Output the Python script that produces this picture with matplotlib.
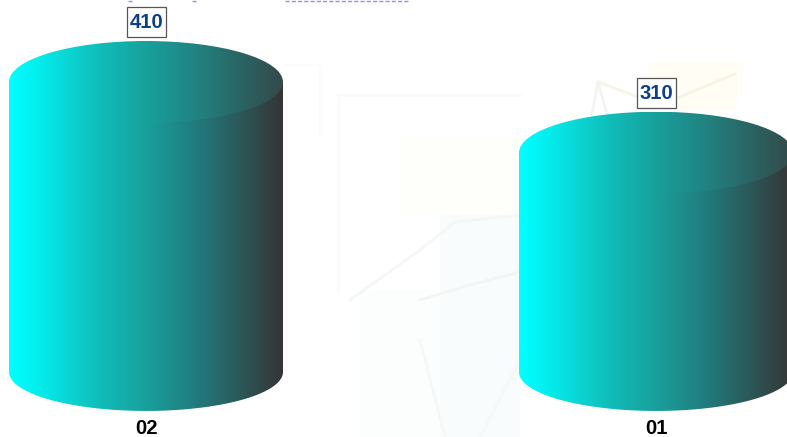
import numpy as np
import matplotlib
matplotlib.use('Agg')
import matplotlib.pyplot as plt
from matplotlib.colors import LinearSegmentedColormap
from matplotlib.patches import Ellipse, PathPatch, Polygon, Rectangle
from matplotlib.path import Path
from matplotlib.transforms import Affine2D

# data
categories = ['02', '01']
values = [410, 310]

W, H = 787, 437
PX_PER_UNIT = 0.7073   # vertical pixels per value unit
BASE_PX = 372          # pixel row of value 0
X0_PX = 146            # centre of first cylinder
STEP_PX = 510          # distance between cylinders
BAR_W = 274 / STEP_PX  # cylinder width in category units
ELL_H = 41 / PX_PER_UNIT  # half height of end ellipses in value units

plt.rcParams['font.family'] = ['Liberation Sans', 'DejaVu Sans']

side_cmap = LinearSegmentedColormap.from_list('side', [
    (0.0, '#00ffff'), (0.1, '#04eeee'), (0.33, '#10bdb9'), (0.5, '#18a09c'),
    (0.7, '#22787a'), (0.88, '#2e5050'), (1.0, '#353535')])
top_cmap = LinearSegmentedColormap.from_list('top', [
    (0.0, '#00ffff'), (0.1, '#04eeee'), (0.33, '#10bdb9'), (0.5, '#18a09c'),
    (0.7, '#22807e'), (0.88, '#2c5e5e'), (1.0, '#344a4a')])

fig = plt.figure(figsize=(W / 100, H / 100), dpi=100)
ax = fig.add_axes([0, 0, 1, 1])
ax.set_xlim(-X0_PX / STEP_PX, (W - X0_PX) / STEP_PX)
ax.set_ylim(-(H - BASE_PX) / PX_PER_UNIT, BASE_PX / PX_PER_UNIT)
ax.set_autoscale_on(False)
ax.axis('off')

# faint watermark behind the chart, in pixel rows from the top
px = Affine2D().scale(1, -1).translate(0, H)
ax.add_patch(Rectangle((400, 138), 120, 80, color='#fefefa', lw=0, transform=px, zorder=0))
ax.add_patch(Rectangle((440, 215), 80, 222, color='#f9fcfc', lw=0, transform=px, zorder=0))
ax.add_patch(Rectangle((360, 290), 80, 147, color='#fcfdfd', lw=0, transform=px, zorder=0))
ax.add_patch(Polygon([(640, 110), (650, 62), (745, 62), (735, 110)], color='#fffdf4', lw=0,
                     transform=px, zorder=0))
wm_lines = [
    ([(350, 300), (420, 250), (455, 222), (520, 215)], '#f5f7f7'),
    ([(420, 300), (470, 285), (520, 272)], '#f3f5f5'),
    ([(420, 340), (445, 437)], '#f6f8f8'),
    ([(520, 360), (480, 437)], '#f6f8f8'),
    ([(590, 125), (598, 82), (610, 125)], '#f3f3f3'),
    ([(598, 82), (660, 105), (735, 74)], '#f8f4e4'),
    ([(338, 95), (338, 290)], '#fbfbfb'),
    ([(338, 95), (520, 95)], '#fbfbfb'),
    ([(285, 65), (320, 65), (320, 135)], '#fcfcfc'),
]
for line, col in wm_lines:
    xs, ys = zip(*line)
    ax.plot(xs, ys, color=col, lw=2, transform=px, zorder=1)

# bottom edge of a line of text that the page cuts off at the top
for x_from, x_to in [(128, 133), (192, 197), (285, 410)]:
    ax.plot([x_from, x_to], [0.6, 0.6], color='#8f8ff5', lw=1, ls=(0, (3, 1.5)),
            transform=px, zorder=1)

grad = np.linspace(0, 1, 274).reshape(1, -1)

for i, (cat, val) in enumerate(zip(categories, values)):
    left, right = i - BAR_W / 2, i + BAR_W / 2
    # body: rectangle plus the lower half of the bottom ellipse
    theta = np.linspace(np.pi, 2 * np.pi, 80)
    low = np.column_stack([i + BAR_W / 2 * np.cos(theta), ELL_H * 0.95 * np.sin(theta)])
    verts = np.vstack([[[left, val]], low, [[right, val]], [[left, val]]])
    body = PathPatch(Path(verts), fc='none', ec='none', transform=ax.transData)
    ax.add_patch(body)
    im = ax.imshow(grad, cmap=side_cmap, extent=[left, right, -ELL_H, val],
                   aspect='auto', zorder=2)
    im.set_clip_path(body)

    # top ellipse
    top = Ellipse((i, val), BAR_W, 2 * ELL_H, fc='none', ec='none', transform=ax.transData)
    ax.add_patch(top)
    im2 = ax.imshow(grad, cmap=top_cmap, extent=[left, right, val - ELL_H, val + ELL_H],
                    aspect='auto', zorder=3)
    im2.set_clip_path(top)

    # value label in its box
    box_w = 39 / STEP_PX
    box_h = 30 / PX_PER_UNIT
    ax.add_patch(Rectangle((i - box_w / 2, val + 45 / PX_PER_UNIT), box_w, box_h, fc='white',
                           ec='#555555', lw=0.9, zorder=4))
    ax.annotate(str(val), (i, val), xytext=(0.6, 43), textcoords='offset points',
                ha='center', va='center', fontsize=14.6, fontweight='bold', color='#0b3f8c',
                zorder=5)
    # category label under the cylinder
    ax.annotate(cat, (i, 0), xytext=(0, -40.5), textcoords='offset points',
                ha='center', va='center', fontsize=14.6, fontweight='bold', color='black',
                zorder=5)

ax.set_xlim(-X0_PX / STEP_PX, (W - X0_PX) / STEP_PX)
ax.set_ylim(-(H - BASE_PX) / PX_PER_UNIT, BASE_PX / PX_PER_UNIT)

fig.savefig('out.png', dpi=100)
